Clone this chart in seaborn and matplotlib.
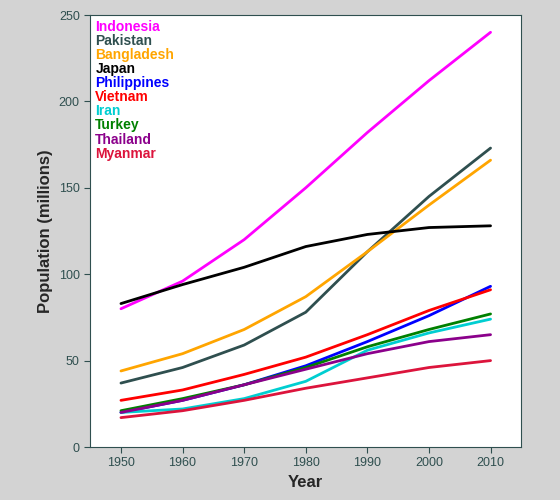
import pandas as pd
import seaborn as sns
import matplotlib.pyplot as plt

years = [1950, 1960, 1970, 1980, 1990, 2000, 2010]
countries = ["Indonesia", "Pakistan", "Bangladesh", "Japan", "Philippines",
             "Vietnam", "Iran", "Turkey", "Thailand", "Myanmar"]
indonesia = [80, 96, 120, 150, 182, 212, 240]
pakistan = [37, 46, 59, 78, 113, 145, 173]
bangladesh = [44, 54, 68, 87, 113, 140, 166]
japan = [83, 94, 104, 116, 123, 127, 128]
philippines = [20, 27, 36, 47, 61, 76, 93]
vietnam = [27, 33, 42, 52, 65, 79, 91]
iran = [20, 22, 28, 38, 56, 66, 74]
turkey = [21, 28, 36, 46, 58, 68, 77]
thailand = [20, 27, 36, 45, 54, 61, 65]
myanmar = [17, 21, 27, 34, 40, 46, 50]
colors = ["magenta", "darkslategray", "orange", "black", "blue",
          "red", "darkturquoise", "green", "darkmagenta", "crimson"]

series = [indonesia, pakistan, bangladesh, japan, philippines,
          vietnam, iran, turkey, thailand, myanmar]
df = pd.DataFrame([(c, y, v) for c, vals in zip(countries, series)
                   for y, v in zip(years, vals)],
                  columns=["country", "year", "pop"])

sns.set_style("white")
plt.rcParams['font.family'] = ['Liberation Sans', 'DejaVu Sans']

fig = plt.figure(figsize=(5.6, 5), dpi=100, facecolor="#d3d3d3")
ax = fig.add_axes([0.161, 0.106, 0.77, 0.864])
sns.lineplot(data=df, x="year", y="pop", hue="country", hue_order=countries,
             palette=colors, linewidth=2, legend=False, ax=ax)

ax.set_xlim(1945, 2015)
ax.set_ylim(0, 250)
ax.set_xticks(years)
ax.set_yticks([0, 50, 100, 150, 200, 250])
ax.tick_params(axis="both", colors="darkslategray", labelsize=9, length=4,
               direction="out", bottom=True, left=True)
for s in ax.spines.values():
    s.set_color("darkslategray")
ax.set_xlabel("Year", fontsize=12, fontweight="bold")
ax.set_ylabel("Population (millions)", fontsize=12, fontweight="bold")

for i, (c, col) in enumerate(zip(countries, colors)):
    ax.text(0.012, 0.988 - i * 0.0325, c, transform=ax.transAxes, color=col,
            fontsize=10, fontweight="bold", va="top", ha="left")

fig.savefig("out.png", dpi=100, facecolor=fig.get_facecolor())
